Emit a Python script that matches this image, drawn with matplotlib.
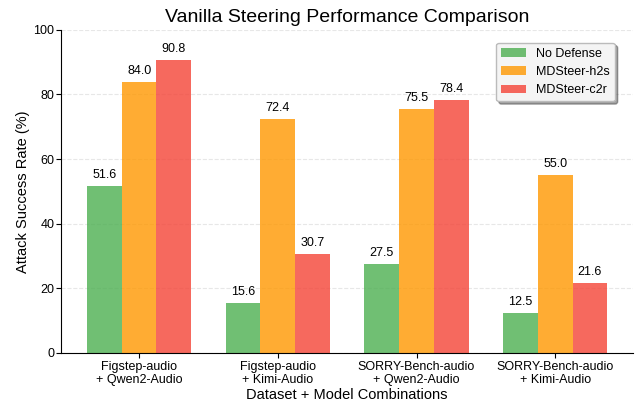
import numpy as np
import matplotlib
matplotlib.use("Agg")
import matplotlib.pyplot as plt

plt.rcParams['font.family'] = ['Liberation Sans', 'DejaVu Sans']

groups = ["Figstep-audio\n+ Qwen2-Audio", "Figstep-audio\n+ Kimi-Audio",
          "SORRY-Bench-audio\n+ Qwen2-Audio", "SORRY-Bench-audio\n+ Kimi-Audio"]
no_defense = [51.6, 15.6, 27.5, 12.5]
h2s = [84.0, 72.4, 75.5, 55.0]
c2r = [90.8, 30.7, 78.4, 21.6]
series = [("No Defense", no_defense, "#4CAF50"),
          ("MDSteer-h2s", h2s, "#FF9800"),
          ("MDSteer-c2r", c2r, "#F44336")]

fig, ax = plt.subplots(figsize=(6.37, 4.09), dpi=100)
x = np.arange(len(groups)); w = 0.25
for i, (name, vals, col) in enumerate(series):
    bars = ax.bar(x + (i - 1) * w, vals, w, label=name, color=col, alpha=0.8)
    for b, v in zip(bars, vals):
        ax.text(b.get_x() + b.get_width() / 2, v + 1.5, f"{v:.1f}",
                ha="center", va="bottom", fontsize=9)

ax.set_ylim(0, 100)
ax.set_xticks(x); ax.set_xticklabels(groups, fontsize=9)
ax.tick_params(axis="y", labelsize=9, pad=1.5)
ax.tick_params(axis="x", pad=2)
ax.set_xlabel("Dataset + Model Combinations", fontsize=10.5, labelpad=1)
ax.set_ylabel("Attack Success Rate (%)", fontsize=10.5, labelpad=2)
ax.set_title("Vanilla Steering Performance Comparison", fontsize=14)
ax.grid(axis="y", linestyle="--", alpha=0.3)
ax.set_axisbelow(True)
for s in ("top", "right"):
    ax.spines[s].set_visible(False)
leg = ax.legend(loc="upper right", bbox_to_anchor=(0.968, 0.96), borderaxespad=0,
                fontsize=9, shadow=True, fancybox=True, framealpha=1)
leg.get_frame().set_facecolor("#f4f4f4")
leg.get_frame().set_edgecolor("#bbbbbb")
fig.subplots_adjust(left=0.096, right=0.994, top=0.927, bottom=0.137)
fig.savefig("out.png", dpi=100)
